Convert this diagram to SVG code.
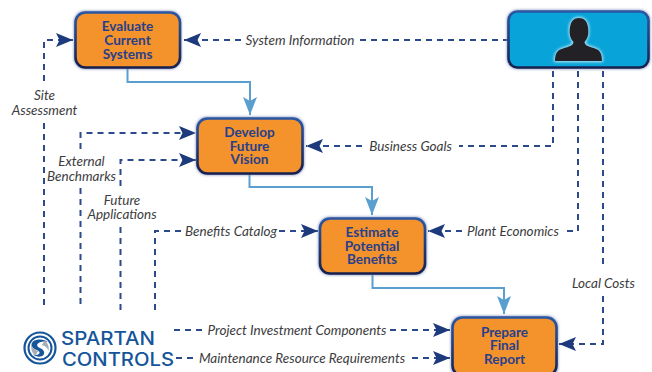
<svg xmlns="http://www.w3.org/2000/svg" width="652" height="372" viewBox="0 0 652 372">
<style>
.box{fill:#f4922b;stroke:url(#edge);stroke-width:2.600}
.halo{fill:#7f8fb8;filter:url(#soft)}
.bt{font:bold 13.6px "Lato","Noto Sans",sans-serif;fill:#27408b;text-anchor:middle}
.lb{font:italic 13.5px "Lato","Noto Sans",sans-serif;fill:#3c3c40;text-anchor:middle}
.d{fill:none;stroke:#2a4a8c;stroke-width:2;stroke-dasharray:6 5}
.s{fill:none;stroke:#5b9fd0;stroke-width:2}
.logo{font-family:"Inter","Open Sans",sans-serif;font-size:18px;font-weight:500;fill:#15559a}
</style>
<defs>
<linearGradient id="edge" x1="0" y1="0" x2="0" y2="1"><stop offset="0" stop-color="#2b57a3"/><stop offset="1" stop-color="#16204f"/></linearGradient>
<marker id="n" markerUnits="userSpaceOnUse" markerWidth="18" markerHeight="15" refX="17" refY="7" orient="auto"><path d="M0 0L17 7L0 14L3.500 7Z" fill="#1c3a7c"/></marker>
<marker id="b" markerUnits="userSpaceOnUse" markerWidth="15" markerHeight="19" refX="7" refY="18" orient="0"><path d="M0 0L7 4L14 0L7 18Z" fill="#5b9fd0"/></marker>
<filter id="soft" x="-15%" y="-20%" width="130%" height="140%"><feGaussianBlur stdDeviation="1.500"/></filter>
</defs>
<rect width="652" height="372" fill="#fff"/>
<g id="connectors">
<path class="s" d="M127.500 68V82H250V115" marker-end="url(#b)"/>
<path class="s" d="M249.500 174V187H372V215" marker-end="url(#b)"/>
<path class="s" d="M372.500 275V288H504V314" marker-end="url(#b)"/>
<path class="d" d="M44 81V40H73" marker-end="url(#n)"/>
<path class="d" d="M44 123V308"/>
<path class="d" d="M80.500 149V133H196" marker-end="url(#n)"/>
<path class="d" d="M80.500 188V308"/>
<path class="d" d="M120.500 186V160H196" marker-end="url(#n)"/>
<path class="d" d="M120.500 227V310"/>
<path class="d" d="M155 310V231H184"/>
<path class="d" d="M279 231H318" marker-end="url(#n)"/>
<path class="d" d="M360 40H508"/>
<path class="d" d="M241 40H184" marker-end="url(#n)"/>
<path class="d" d="M553 71V146H459"/>
<path class="d" d="M362 146H306" marker-end="url(#n)"/>
<path class="d" d="M578 71V231H565"/>
<path class="d" d="M462 231H428" marker-end="url(#n)"/>
<path class="d" d="M603 71V268"/>
<path class="d" d="M603 296V344H559" marker-end="url(#n)"/>
<path class="d" d="M174 330H204"/>
<path class="d" d="M390 330H450" marker-end="url(#n)"/>
<path class="d" d="M176 358H193"/>
<path class="d" d="M412 358H450" marker-end="url(#n)"/>
</g>
<g id="evaluate">
<rect class="halo" x="74" y="11" width="107" height="58" rx="11"/>
<rect class="box" x="75.500" y="12.500" width="104.500" height="55" rx="10"/>
<text class="bt" x="127.500" y="31">Evaluate</text><text class="bt" x="127.500" y="45">Current</text><text class="bt" x="127.500" y="58.500">Systems</text>
</g>
<g id="develop">
<rect class="halo" x="196" y="117" width="108" height="58" rx="11"/>
<rect class="box" x="197.500" y="118.500" width="105" height="55" rx="10"/>
<text class="bt" x="249.500" y="137">Develop</text><text class="bt" x="249.500" y="150.500">Future</text><text class="bt" x="249.500" y="164">Vision</text>
</g>
<g id="estimate">
<rect class="halo" x="318.500" y="217" width="108" height="58" rx="11"/>
<rect class="box" x="320" y="218.500" width="105" height="55" rx="10"/>
<text class="bt" x="372" y="237">Estimate</text><text class="bt" x="372" y="250.500">Potential</text><text class="bt" x="372" y="264">Benefits</text>
</g>
<g id="report">
<rect class="halo" x="451" y="316" width="107" height="62" rx="11"/>
<rect class="box" x="452.500" y="317.500" width="104" height="58" rx="10"/>
<text class="bt" x="504.500" y="336.500">Prepare</text><text class="bt" x="504.500" y="350">Final</text><text class="bt" x="504.500" y="363.500">Report</text>
</g>
<g id="person">
<rect class="halo" x="507" y="10" width="143" height="59" rx="10"/>
<rect x="508.500" y="11.500" width="140" height="56" rx="9" fill="#08a3d8" stroke="url(#edge)" stroke-width="2.600"/>
<path id="sil" d="M555 61C555 54 557 50 563 48.500C569 46.500 573 46 573.500 42C570 38 569 34 570 27C571 21 574 18 579 18C584 18 587 21 588 27C589 34 588 38 584.500 42C585 46 589 46.500 595 48.500C600 50 602 54 602 61Z" fill="#bfeafa" stroke="#bfeafa" stroke-width="2" filter="url(#soft)"/>
<path d="M555 61C555 54 557 50 563 48.500C569 46.500 573 46 573.500 42C570 38 569 34 570 27C571 21 574 18 579 18C584 18 587 21 588 27C589 34 588 38 584.500 42C585 46 589 46.500 595 48.500C600 50 602 54 602 61Z" fill="#222226"/>
</g>
<g id="labels">
<text class="lb" x="300" y="44.500">System Information</text>
<text class="lb" x="44.500" y="100">Site</text>
<text class="lb" x="44.500" y="115">Assessment</text>
<text class="lb" x="81.500" y="166">External</text>
<text class="lb" x="81.500" y="181">Benchmarks</text>
<text class="lb" x="122" y="205">Future</text>
<text class="lb" x="122" y="219">Applications</text>
<text class="lb" x="231" y="236">Benefits Catalog</text>
<text class="lb" x="410.500" y="150.500">Business Goals</text>
<text class="lb" x="513" y="236">Plant Economics</text>
<text class="lb" x="603.500" y="288">Local Costs</text>
<text class="lb" x="297" y="334.500">Project Investment Components</text>
<text class="lb" x="302" y="363">Maintenance Resource Requirements</text>
</g>
<g id="logo">
<circle cx="40" cy="348" r="15.500" fill="#fff" stroke="#15559a" stroke-width="2.200"/>
<circle cx="40" cy="348" r="11.500" fill="#fff" stroke="#15559a" stroke-width="2"/>
<path d="M33 341.500C37 338.500 45 339 47.500 342C43 340.500 39 342 37.500 344C36.500 345.500 37.500 347 40 348C44 349.500 45 352.500 43.500 355C41 357.500 36 357 33 354.500C36 355.500 39 355 39.500 353C40 351.500 38 350.500 35.500 349.500C31 347.500 30.500 344 33 341.500Z" fill="#15559a"/>
<path d="M44 340.500C47.500 342 49.500 346 48.500 351C47.500 348 45 345.500 41.500 345C43 343.500 44 342 44 340.500Z" fill="#a9aeb5"/>
<path d="M36 355.500C32.500 354 30.500 350 31.500 345C32.500 348 35 350.500 38.500 351C37 352.500 36 354 36 355.500Z" fill="#a9aeb5"/>
<text class="logo" x="61" y="345" textLength="94" lengthAdjust="spacingAndGlyphs">SPARTAN</text>
<text class="logo" x="62" y="365.500" textLength="112" lengthAdjust="spacingAndGlyphs">CONTROLS</text>
</g>
</svg>
